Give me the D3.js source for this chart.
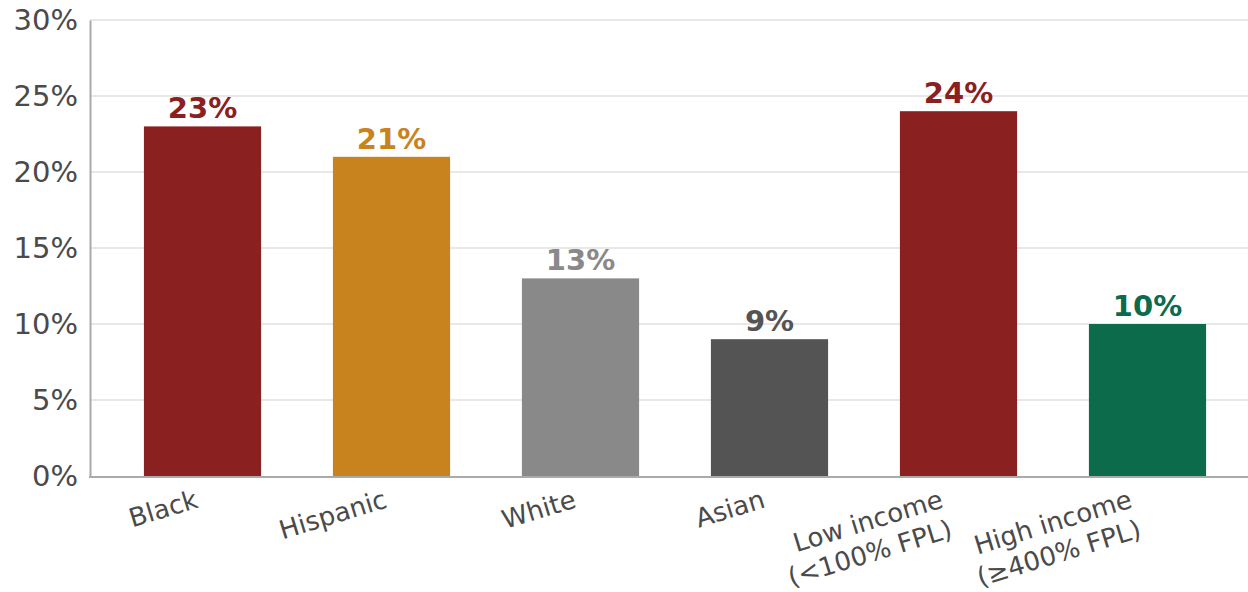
<!DOCTYPE html>
<html>
<head>
<meta charset="utf-8">
<script src="https://cdn.jsdelivr.net/npm/d3@7"></script>
<style>
  html, body { margin: 0; padding: 0; background: #fff; }
  svg { display: block; font-family: "DejaVu Sans", sans-serif; }
</style>
</head>
<body>
<svg id="chart" width="1248" height="592"></svg>
<script>
// Share of each group, in percent
const categories = ["Black", "Hispanic", "White", "Asian", "Low income\n(<100% FPL)", "High income\n(≥400% FPL)"];
const values = [23, 21, 13, 9, 24, 10];
const barColors = ["#8a2120", "#c8831f", "#898989", "#545454", "#8a2120", "#0c6b4a"];
const labelColors = ["#8a2120", "#c8831f", "#898989", "#545454", "#8a2120", "#0c6b4a"];
const yTicks = [0, 5, 10, 15, 20, 25, 30];

const svg = d3.select("#chart");
const plot = { left: 90, right: 1248, top: 20, bottom: 476 };

const x = d3.scaleBand()
  .domain(categories)
  .range([108, 1242])
  .paddingInner(0.38)
  .paddingOuter(0.19);

const y = d3.scaleLinear()
  .domain([0, 30])
  .range([plot.bottom, plot.top]);

// Horizontal gridlines
svg.append("g")
  .selectAll("line")
  .data(yTicks.filter(d => d > 0))
  .join("line")
  .attr("x1", plot.left)
  .attr("x2", plot.right)
  .attr("y1", d => y(d))
  .attr("y2", d => y(d))
  .attr("stroke", "#e8e8e8")
  .attr("stroke-width", 2);

// Y axis
const yAxis = svg.append("g")
  .attr("transform", `translate(${plot.left},0)`)
  .call(d3.axisLeft(y).tickValues(yTicks).tickFormat(d => d + "%").tickSize(0).tickPadding(12));
yAxis.select(".domain").attr("stroke", "#aaaaaa").attr("stroke-width", 2);
yAxis.selectAll("text")
  .attr("font-size", 29)
  .attr("fill", "#4a4a4a")
  .attr("font-family", "DejaVu Sans, sans-serif");

// Bars
svg.append("g")
  .selectAll("rect")
  .data(categories)
  .join("rect")
  .attr("x", d => x(d))
  .attr("width", x.bandwidth())
  .attr("y", (d, i) => y(values[i]))
  .attr("height", (d, i) => y(0) - y(values[i]))
  .attr("fill", (d, i) => barColors[i]);

// X axis baseline
svg.append("line")
  .attr("x1", plot.left - 1)
  .attr("x2", plot.right)
  .attr("y1", plot.bottom + 1)
  .attr("y2", plot.bottom + 1)
  .attr("stroke", "#aaaaaa")
  .attr("stroke-width", 2);

// Value labels
svg.append("g")
  .selectAll("text")
  .data(categories)
  .join("text")
  .attr("x", d => x(d) + x.bandwidth() / 2)
  .attr("y", (d, i) => y(values[i]) - 8)
  .attr("text-anchor", "middle")
  .attr("font-size", 29)
  .attr("font-weight", "bold")
  .attr("fill", (d, i) => labelColors[i])
  .text((d, i) => values[i] + "%");

// Category labels, rotated; two-line labels sit a little further left
const xl = svg.append("g")
  .selectAll("text")
  .data(categories)
  .join("text")
  .attr("transform", d => {
    const shift = d.includes("\n") ? -14 : -3;
    return `translate(${x(d) + x.bandwidth() / 2 + shift},${plot.bottom + 31}) rotate(-17)`;
  })
  .attr("text-anchor", "end")
  .attr("font-size", 26)
  .attr("fill", "#4a4a4a");
xl.each(function(d) {
  const lines = d.split("\n");
  const t = d3.select(this);
  lines.forEach((line, k) => {
    t.append("tspan")
      .attr("x", 0)
      .attr("dy", k === 0 ? 0 : "1.2em")
      .text(line);
  });
});
</script>
</body>
</html>
